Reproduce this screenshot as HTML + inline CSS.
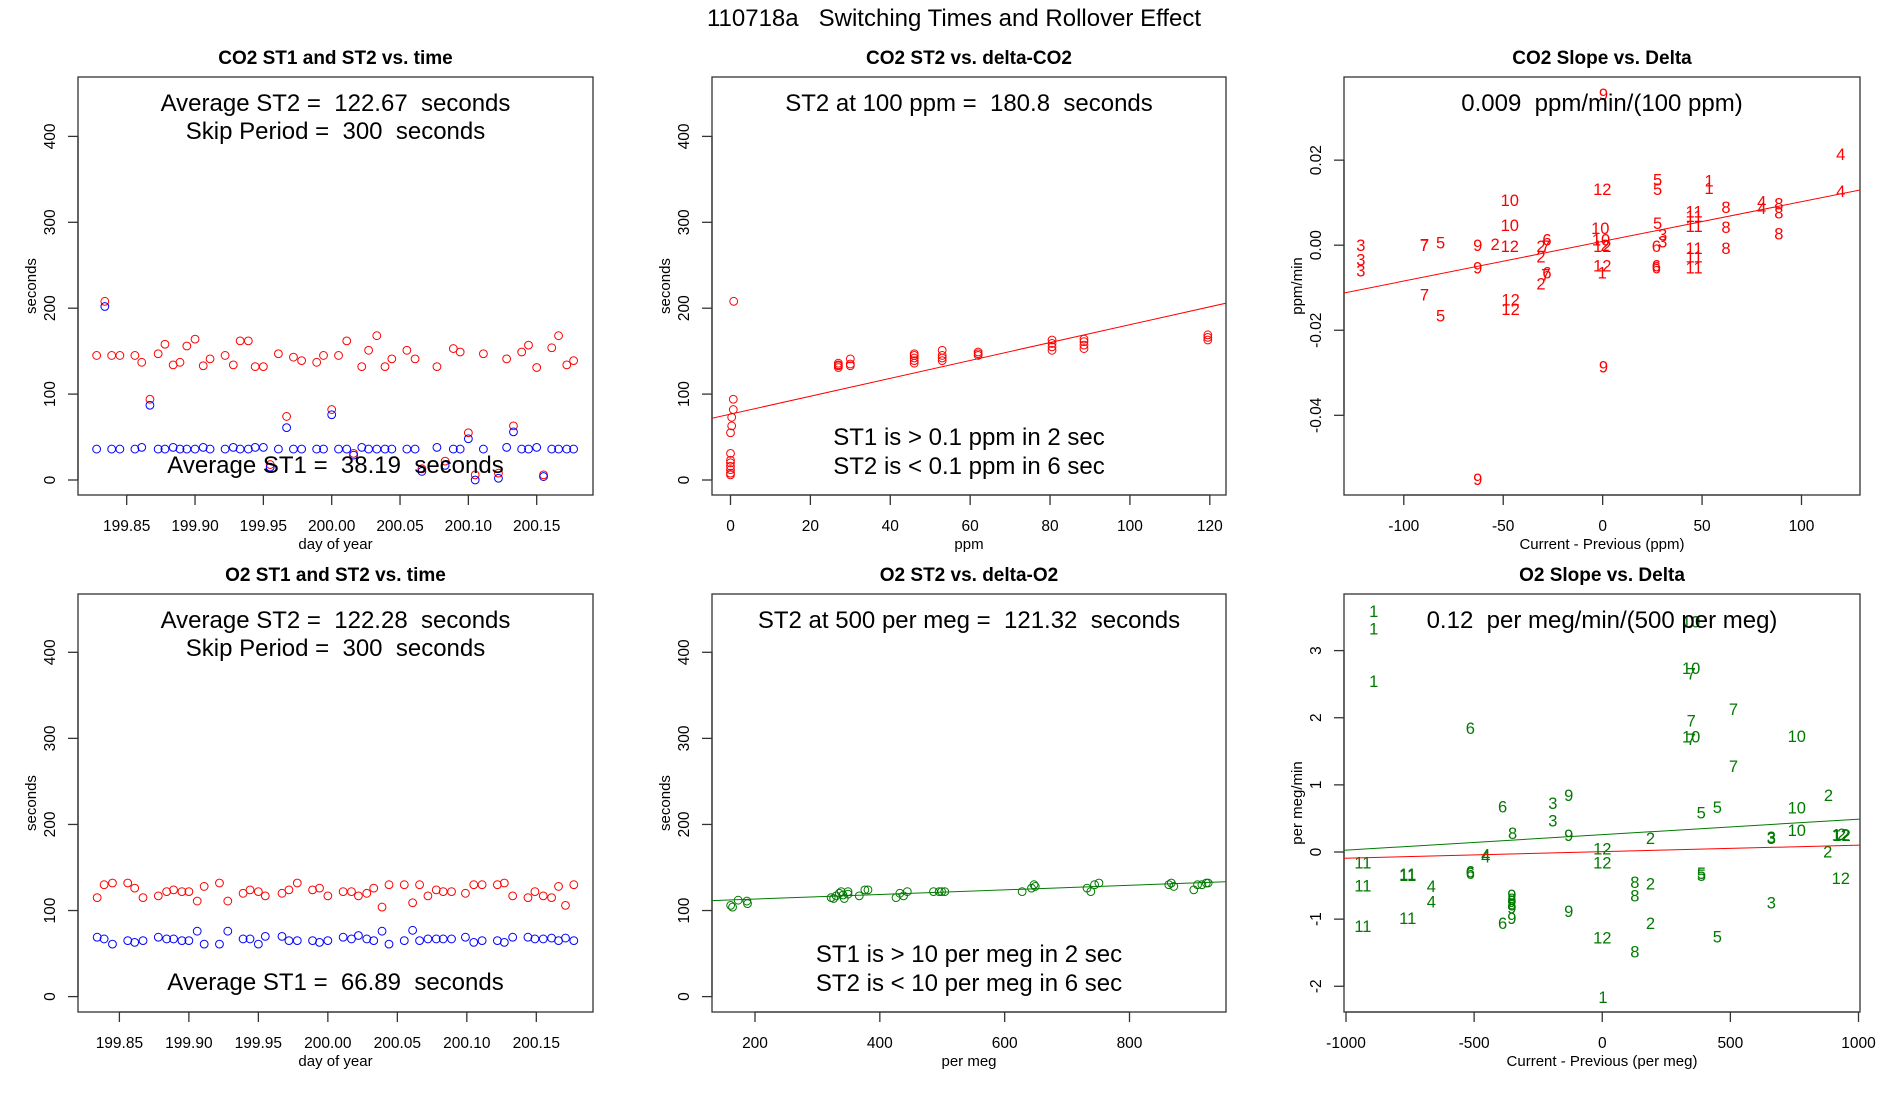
<!DOCTYPE html>
<html><head><meta charset="utf-8"><title>110718a Switching Times and Rollover Effect</title>
<style>
html,body{margin:0;padding:0;background:#fff;}
svg{display:block;font-family:"Liberation Sans",Arial,sans-serif;}
text{white-space:pre;}
</style></head>
<body>
<svg id="chart" width="1900" height="1100" viewBox="0 0 1900 1100" xmlns="http://www.w3.org/2000/svg">
<rect width="1900" height="1100" fill="#fff"/>
<text x="954" y="26" font-size="24" text-anchor="middle">110718a   Switching Times and Rollover Effect</text>
</svg>
<script>
// ---------- Panel 1 (CO2 ST1/ST2 vs time) ----------
const co2Days = [199.828,199.834,199.839,199.845,199.856,199.861,199.867,199.873,199.878,199.884,199.889,199.894,199.900,199.906,199.911,199.922,199.928,199.933,199.939,199.944,199.950,199.955,199.961,199.967,199.972,199.978,199.989,199.994,200.000,200.005,200.011,200.016,200.022,200.027,200.033,200.039,200.044,200.055,200.061,200.066,200.077,200.083,200.089,200.094,200.100,200.105,200.111,200.122,200.128,200.133,200.139,200.144,200.150,200.155,200.161,200.166,200.172,200.177];
const co2ST2 = [145,208,145,145,145,137,94,147,158,134,137,156,164,133,141,145,134,162,162,132,132,18,147,74,143,139,137,145,82,145,162,31,132,151,168,132,141,151,141,13,132,22,153,149,55,6,147,8,141,63,149,157,131,6,154,168,134,139];
const co2ST1 = [36,202,36,36,36,38,87,36,36,38,36,36,36,38,36,36,38,36,36,38,38,15,36,61,36,36,36,36,76,36,36,29,38,36,36,36,36,36,36,10,38,17,36,36,48,0,36,2,38,56,36,36,38,4,36,36,36,36];
// ---------- Panel 4 (O2 ST1/ST2 vs time) ----------
const o2Days = [199.834,199.839,199.845,199.856,199.861,199.867,199.878,199.884,199.889,199.895,199.900,199.906,199.911,199.922,199.928,199.939,199.944,199.950,199.955,199.967,199.972,199.978,199.989,199.994,200.000,200.011,200.017,200.022,200.028,200.033,200.039,200.044,200.055,200.061,200.066,200.072,200.078,200.083,200.089,200.099,200.105,200.111,200.122,200.127,200.133,200.144,200.149,200.155,200.161,200.166,200.171,200.177];
const o2ST2 = [115,130,132,132,126,115,117,122,124,122,122,111,128,132,111,120,124,122,117,120,124,132,124,126,117,122,122,117,120,126,104,130,130,109,130,117,124,122,122,120,130,130,130,132,117,115,122,117,115,128,106,130];
const o2ST1 = [69,67,61,65,63,65,69,67,67,65,65,76,61,61,76,67,67,61,70,70,65,65,65,63,65,69,67,71,67,65,76,61,65,77,65,67,67,67,67,69,63,65,65,63,69,69,67,67,68,65,68,65];
// ---------- Panel 2 (CO2 ST2 vs delta) ----------
const co2Delta = [0,0,0,0,0,0,0,0,0.3,0.3,0.7,0.7,0.8, 27,27,27,27, 30,30,30, 46,46,46,46,46, 53,53,53,53, 62,62,62, 80.5,80.5,80.5,80.5, 88.5,88.5,88.5,88.5, 119.5,119.5,119.5];
const co2DeltaST2 = [6,8,12,16,20,23,31,55,63,73,82,94,208, 131,133,134,136, 133,135,141, 136,139,142,145,147, 139,142,145,151, 145,147,149, 151,155,159,163, 153,157,161,164, 163,166,169];
const co2FitIntercept = 76.7, co2FitSlope = 1.041;
// ---------- Panel 5 (O2 ST2 vs delta) ----------
const o2Delta = [161,164,173,187,188,322,326,330,335,338,341,343,349,349,367,376,381,426,432,438,444,486,495,499,504,628,643,647,649,732,738,744,751,863,867,871,903,909,916,923,926];
const o2DeltaST2 = [106,104,112,111,108,115,114,117,120,122,118,114,119,122,117,124,124,115,120,117,122,122,122,122,122,122,126,130,128,126,122,130,132,130,132,128,124,130,130,132,132];
const o2FitIntercept = 107.99, o2FitSlope = 0.02667;
// ---------- Panel 3 (CO2 slope vs delta) ----------
const co2SlopeLabels = ["3","3","3","7","7","7","5","5","9","9","9","9","9","2","12","10","10","12","12","2","2","2","6","6","7","7","10","10","12","2","12","12","1","5","5","5","6","6","6","3","3","1","1","11","11","11","11","11","11","8","8","8","4","4","4","4","8","8","8"];
const co2SlopeX = [-121.6,-121.6,-121.6,-89.6,-89.6,-89.6,-81.5,-81.5,-62.8,-62.8,-62.8,0.4,0.4,-54.1,-46.7,-46.7,-46.7,-46.3,-46.3,-31,-31,-31,-28,-28,-28.6,-28.6,-1.2,-0.8,-0.2,1.2,-0.2,-0.2,-0.2,27.6,27.6,27.6,27,27,27,30.2,30.2,53.5,53.5,46,46,46,46,46,46,62,62,62,80,80,119.7,119.7,88.6,88.6,88.6];
const co2SlopeY = [0,-0.0034,-0.0060,0.0002,0,-0.0116,0.0006,-0.0165,0,-0.0053,-0.0550,0.0355,-0.0285,0.0003,-0.0002,0.0106,0.0047,-0.0128,-0.0150,-0.0002,-0.0026,-0.0090,0.0013,-0.0064,-0.0002,-0.0069,0.0041,0.0013,-0.0002,0,0.0132,-0.0048,-0.0064,0.0154,0.0132,0.0052,-0.0002,-0.0048,-0.0053,0.0025,0.0009,0.0152,0.0135,0.0079,0.0069,0.0045,-0.0007,-0.0027,-0.0052,0.0090,0.0043,-0.0006,0.0103,0.0087,0.0215,0.0128,0.0098,0.0077,0.0027];
const co2SlopeFitIntercept = 0.0009, co2SlopeFitSlope = 0.0000933;
// ---------- Panel 6 (O2 slope vs delta) ----------
const o2SlopeLabels = ["1","1","1","1","6","6","6","6","6","3","3","3","3","3","9","9","9","9","9","9","9","8","8","8","8","8","8","4","4","4","4","11","11","11","11","11","11","12","12","12","12","12","12","2","2","2","2","2","2","10","10","10","10","10","10","7","7","7","7","7","5","5","5","5","5"];
const o2SlopeX = [-892,-892,-892,3,-515,-389,-515,-515,-389,-193,-193,660,660,660,-131,-131,-131,-353,-353,-353,-353,-350,127,127,127,-353,-353,-455,-455,-667,-667,-934,-934,-934,-759,-759,-759,0,0,0,931,931,934,188,188,188,883,880,934,347,347,759,759,759,347,347,347,347,512,512,386,449,387,387,449];
const o2SlopeY = [3.59,3.33,2.55,-2.16,1.85,0.68,-0.29,-0.31,-1.06,0.73,0.47,0.22,0.21,-0.75,0.85,0.25,-0.88,-0.64,-0.73,-0.98,-0.83,0.28,-0.45,-0.65,-1.48,-0.70,-0.78,-0.04,-0.07,-0.51,-0.74,-0.16,-0.50,-1.10,-0.33,-0.34,-0.98,0.05,-0.16,-1.27,0.26,-0.39,0.25,0.21,-0.47,-1.06,0.85,0.01,0.27,2.74,1.72,1.73,0.66,0.33,3.43,2.66,1.96,1.68,2.13,1.28,0.59,0.67,-0.34,-0.31,-1.26];
const o2SlopeFitIntercept = 0.258, o2SlopeFitSlope = 0.000231;
const o2SlopeRedIntercept = 0.005, o2SlopeRedSlope = 0.0000969;

const NS = "http://www.w3.org/2000/svg";
const svg = document.getElementById('chart');
function mk(tag, attrs, parent, txt){
  const e = document.createElementNS(NS, tag);
  for (const k in attrs) e.setAttribute(k, attrs[k]);
  if (txt !== undefined) e.textContent = txt;
  (parent || svg).appendChild(e);
  return e;
}
function lin(v0, p0, v1, p1){ return v => p0 + (v - v0) * (p1 - p0) / (v1 - v0); }

function panel(cfg){
  const g = mk('g', {});
  
  
  const [L,T,R,B] = cfg.box;
  const t = mk('text', {x:(L+R)/2, y:T-13, 'font-size':19, 'font-weight':'bold', 'text-anchor':'middle'}, g, cfg.title);
  
  
  const box = mk('rect', {x:L, y:T, width:R-L, height:B-T, fill:'none', stroke:'#333', 'stroke-width':1.3}, g);
  
  
  const xa = mk('g', {}, g);
  
  
  const xs = cfg.xTicks.map(cfg.x);
  mk('line', {x1:xs[0], x2:xs[xs.length-1], y1:B, y2:B, stroke:'#333', 'stroke-width':1.3}, xa);
  cfg.xTicks.forEach((v,i)=>{
    mk('line', {x1:xs[i], x2:xs[i], y1:B, y2:B+10, stroke:'#333', 'stroke-width':1.3}, xa);
    const tl = mk('text', {x:xs[i], y:B+36, 'font-size':15.5, 'text-anchor':'middle'}, xa, cfg.xTickLabels[i]);
    
    
  });
  const xl = mk('text', {x:(L+R)/2, y:B+54, 'font-size':15, 'text-anchor':'middle'}, xa, cfg.xLabel);
  
  
  const ya = mk('g', {}, g);
  
  
  const ys = cfg.yTicks.map(cfg.y);
  mk('line', {x1:L, x2:L, y1:ys[0], y2:ys[ys.length-1], stroke:'#333', 'stroke-width':1.3}, ya);
  cfg.yTicks.forEach((v,i)=>{
    mk('line', {x1:L-10, x2:L, y1:ys[i], y2:ys[i], stroke:'#333', 'stroke-width':1.3}, ya);
    const tx = L-23;
    const tl = mk('text', {x:tx, y:ys[i], 'font-size':15.5, 'text-anchor':'middle', transform:`rotate(-90 ${tx} ${ys[i]})`}, ya, cfg.yTickLabels[i]);
    
    
  });
  const yx = L-42, yy = (T+B)/2;
  const yl = mk('text', {x:yx, y:yy, 'font-size':15, 'text-anchor':'middle', transform:`rotate(-90 ${yx} ${yy})`}, ya, cfg.yLabel);
  
  
  const clipId = 'clip-' + cfg.name;
  const cp = mk('clipPath', {id:clipId}, g);
  mk('rect', {x:L, y:T, width:R-L, height:B-T}, cp);
  const plot = mk('g', {'clip-path':`url(#${clipId})`}, g);
  
  
  cfg.notes.forEach(n=>{
    const a = mk('text', {x:(L+R)/2, y:T+n[1], 'font-size':24, 'text-anchor':'middle'}, g, n[0]);
    
    
  });
  return {g:plot, x:cfg.x, y:cfg.y, L, R};
}
function circles(p, xsArr, ysArr, color, name){
  xsArr.forEach((v,i)=>{
    const c = mk('circle', {cx:p.x(v), cy:p.y(ysArr[i]), r:3.9, fill:'none', stroke:color, 'stroke-width':1}, p.g);
    
    
  });
}
function labels(p, labs, xsArr, ysArr, color){
  labs.forEach((s,i)=>{
    const t = mk('text', {x:p.x(xsArr[i]), y:p.y(ysArr[i])+6, 'font-size':16.5, fill:color, 'text-anchor':'middle'}, p.g, s);
    
    
  });
}
function fitLine(p, x0, x1, a, b, color, name){
  const l = mk('line', {x1:p.x(x0), y1:p.y(a+b*x0), x2:p.x(x1), y2:p.y(a+b*x1), stroke:color, 'stroke-width':1}, p.g);
  
  
}
const dayTicks = [199.85,199.90,199.95,200.00,200.05,200.10,200.15];
const dayTickLabels = ["199.85","199.90","199.95","200.00","200.05","200.10","200.15"];
const secTicks = [0,100,200,300,400];
const secTickLabels = ["0","100","200","300","400"];

// Panel 1
const p1 = panel({name:'co2-st1-st2-vs-time', title:'CO2 ST1 and ST2 vs. time', box:[78,77,593,495],
  x: lin(199.85,126.7,200.15,536.7), y: lin(0,480,400,136.4),
  xTicks:dayTicks, xTickLabels:dayTickLabels, yTicks:secTicks, yTickLabels:secTickLabels,
  xLabel:'day of year', yLabel:'seconds',
  notes:[['Average ST2 =  122.67  seconds',34],['Skip Period =  300  seconds',62],['Average ST1 =  38.19  seconds',396]]});
circles(p1, co2Days, co2ST2, '#ff0000', 'st2-point');
circles(p1, co2Days, co2ST1, '#0000ff', 'st1-point');

// Panel 4
const p4 = panel({name:'o2-st1-st2-vs-time', title:'O2 ST1 and ST2 vs. time', box:[78,594,593,1012],
  x: lin(199.85,119.4,200.15,536.3), y: lin(0,996.6,400,652.3),
  xTicks:dayTicks, xTickLabels:dayTickLabels, yTicks:secTicks, yTickLabels:secTickLabels,
  xLabel:'day of year', yLabel:'seconds',
  notes:[['Average ST2 =  122.28  seconds',34],['Skip Period =  300  seconds',62],['Average ST1 =  66.89  seconds',396]]});
circles(p4, o2Days, o2ST2, '#ff0000', 'st2-point');
circles(p4, o2Days, o2ST1, '#0000ff', 'st1-point');

// Panel 2
const p2 = panel({name:'co2-st2-vs-delta', title:'CO2 ST2 vs. delta-CO2', box:[712,77,1226,495],
  x: lin(0,730.5,120,1209.8), y: lin(0,480,400,136.4),
  xTicks:[0,20,40,60,80,100,120], xTickLabels:["0","20","40","60","80","100","120"], yTicks:secTicks, yTickLabels:secTickLabels,
  xLabel:'ppm', yLabel:'seconds',
  notes:[['ST2 at 100 ppm =  180.8  seconds',34],['ST1 is > 0.1 ppm in 2 sec',368],['ST2 is < 0.1 ppm in 6 sec',397]]});
circles(p2, co2Delta, co2DeltaST2, '#ff0000', 'st2-point');
fitLine(p2, -10, 130, co2FitIntercept, co2FitSlope, '#ff0000', 'fit-line');

// Panel 5
const p5 = panel({name:'o2-st2-vs-delta', title:'O2 ST2 vs. delta-O2', box:[712,594,1226,1012],
  x: lin(200,755,800,1129.5), y: lin(0,996.6,400,652.3),
  xTicks:[200,400,600,800], xTickLabels:["200","400","600","800"], yTicks:secTicks, yTickLabels:secTickLabels,
  xLabel:'per meg', yLabel:'seconds',
  notes:[['ST2 at 500 per meg =  121.32  seconds',34],['ST1 is > 10 per meg in 2 sec',368],['ST2 is < 10 per meg in 6 sec',397]]});
circles(p5, o2Delta, o2DeltaST2, '#007a00', 'st2-point');
fitLine(p5, 100, 1000, o2FitIntercept, o2FitSlope, '#007a00', 'fit-line');

// Panel 3
const p3 = panel({name:'co2-slope-vs-delta', title:'CO2 Slope vs. Delta', box:[1344,77,1860,495],
  x: lin(-100,1403.8,100,1801.5), y: lin(0,245.2,-0.04,415.3),
  xTicks:[-100,-50,0,50,100], xTickLabels:["-100","-50","0","50","100"], yTicks:[-0.04,-0.02,0,0.02], yTickLabels:["-0.04","-0.02","0.00","0.02"],
  xLabel:'Current - Previous (ppm)', yLabel:'ppm/min',
  notes:[['0.009  ppm/min/(100 ppm)',34]]});
labels(p3, co2SlopeLabels, co2SlopeX, co2SlopeY, '#ff0000');
fitLine(p3, -140, 140, co2SlopeFitIntercept, co2SlopeFitSlope, '#ff0000', 'fit-line');

// Panel 6
const p6 = panel({name:'o2-slope-vs-delta', title:'O2 Slope vs. Delta', box:[1344,594,1860,1012],
  x: lin(-1000,1346,1000,1858.5), y: lin(0,852,3,650.6),
  xTicks:[-1000,-500,0,500,1000], xTickLabels:["-1000","-500","0","500","1000"], yTicks:[-2,-1,0,1,2,3], yTickLabels:["-2","-1","0","1","2","3"],
  xLabel:'Current - Previous (per meg)', yLabel:'per meg/min',
  notes:[['0.12  per meg/min/(500 per meg)',34]]});
labels(p6, o2SlopeLabels, o2SlopeX, o2SlopeY, '#007a00');
fitLine(p6, -1100, 1100, o2SlopeFitIntercept, o2SlopeFitSlope, '#007a00', 'fit-line');
fitLine(p6, -1100, 1100, o2SlopeRedIntercept, o2SlopeRedSlope, '#ff0000', 'reference-line');
</script>
</body></html>
